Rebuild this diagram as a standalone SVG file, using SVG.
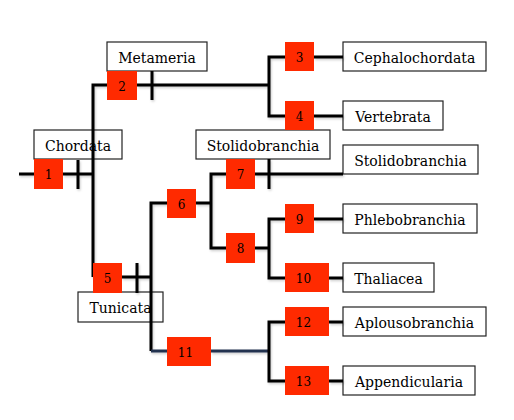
<svg xmlns="http://www.w3.org/2000/svg" width="514" height="420" viewBox="0 0 514 420">
<defs>
<filter id="sh" x="-10%" y="-10%" width="120%" height="120%">
<feDropShadow dx="1" dy="1.5" stdDeviation="0.8" flood-color="#000" flood-opacity="0.2"/>
</filter>
</defs>
<style>
.lb{fill:#fff;stroke:#222;stroke-width:1.2}
.lt{font-family:"DejaVu Serif","Liberation Serif",serif;font-size:14px;fill:#000;text-anchor:middle}
.rb{fill:#ff2a00}
.nt{font-family:"DejaVu Serif","Liberation Serif",serif;font-size:12px;fill:#000;text-anchor:middle}
.c{fill:none;stroke:#000;stroke-width:3}
.cb{fill:none;stroke:#243250;stroke-width:3}
</style>
<rect width="514" height="420" fill="#fff"/>
<g id="labels">
<g id="lab-metameria"><rect class="lb" x="107" y="42" width="100" height="29"/><text class="lt" x="157" y="63">Metameria</text></g>
<g id="lab-chordata"><rect class="lb" x="34" y="130" width="88" height="29"/><text class="lt" x="78" y="151">Chordata</text></g>
<g id="lab-tunicata"><rect class="lb" x="78" y="292" width="85" height="30"/><text class="lt" x="120.5" y="313">Tunicata</text></g>
<g id="lab-stolido-clade"><rect class="lb" x="196" y="130" width="134" height="29"/><text class="lt" x="263" y="151">Stolidobranchia</text></g>
<g id="leaf-cephalochordata"><rect class="lb" x="343" y="42" width="143" height="29"/><text class="lt" x="414.5" y="63">Cephalochordata</text></g>
<g id="leaf-vertebrata"><rect class="lb" x="343" y="101" width="100" height="29"/><text class="lt" x="393" y="122">Vertebrata</text></g>
<g id="leaf-stolidobranchia"><rect class="lb" x="343" y="145" width="135" height="29"/><text class="lt" x="410.5" y="166">Stolidobranchia</text></g>
<g id="leaf-phlebobranchia"><rect class="lb" x="343" y="204" width="134" height="29"/><text class="lt" x="410" y="225">Phlebobranchia</text></g>
<g id="leaf-thaliacea"><rect class="lb" x="343" y="263" width="91" height="29"/><text class="lt" x="388.5" y="284">Thaliacea</text></g>
<g id="leaf-aplousobranchia"><rect class="lb" x="343" y="307" width="143" height="29"/><text class="lt" x="414.5" y="328">Aplousobranchia</text></g>
<g id="leaf-appendicularia"><rect class="lb" x="343" y="366" width="132" height="29"/><text class="lt" x="409" y="387">Appendicularia</text></g>
</g>
<g id="connectors" filter="url(#sh)">
<path class="c" d="M19 174H34M63 174H93M78 160V189"/>
<path class="c" d="M93 277V85H107M137 85H269M152 71V100"/>
<path class="c" d="M285 57H269V116H285M314 57H343M314 116H343"/>
<path class="c" d="M122 277H151M137 263V293"/>
<path class="c" d="M167 203H151V351M196 203H211"/>
<path class="cb" d="M151 351H167M211 351H269"/>
<path class="c" d="M226 174H211V248H226M255 174H343M269 159V189"/>
<path class="c" d="M255 248H269M285 219H269V278H285M314 219H343M329 278H343"/>
<path class="c" d="M285 322H269V381H285M329 322H343M329 381H343"/>
</g>
<g id="n1"><rect class="rb" x="34" y="159" width="29" height="30"/><text class="nt" x="48.5" y="179">1</text></g>
<g id="n2"><rect class="rb" x="107" y="71" width="30" height="29"/><text class="nt" x="122" y="91">2</text></g>
<g id="n3"><rect class="rb" x="285" y="42" width="29" height="29"/><text class="nt" x="299.5" y="62">3</text></g>
<g id="n4"><rect class="rb" x="285" y="101" width="29" height="29"/><text class="nt" x="299.5" y="121">4</text></g>
<g id="n5"><rect class="rb" x="93" y="263" width="29" height="30"/><text class="nt" x="107.5" y="283">5</text></g>
<g id="n6"><rect class="rb" x="167" y="189" width="29" height="29"/><text class="nt" x="181.5" y="209">6</text></g>
<g id="n7"><rect class="rb" x="226" y="159" width="29" height="30"/><text class="nt" x="240.5" y="179">7</text></g>
<g id="n8"><rect class="rb" x="226" y="233" width="29" height="30"/><text class="nt" x="240.5" y="253">8</text></g>
<g id="n9"><rect class="rb" x="285" y="204" width="29" height="29"/><text class="nt" x="299.5" y="224">9</text></g>
<g id="n10"><rect class="rb" x="285" y="263" width="44" height="29"/><text class="nt" x="303.5" y="283">10</text></g>
<g id="n11"><rect class="rb" x="167" y="337" width="44" height="29"/><text class="nt" x="185.5" y="357">11</text></g>
<g id="n12"><rect class="rb" x="285" y="307" width="44" height="29"/><text class="nt" x="303.5" y="327">12</text></g>
<g id="n13"><rect class="rb" x="285" y="366" width="44" height="29"/><text class="nt" x="303.5" y="386">13</text></g>
</svg>
